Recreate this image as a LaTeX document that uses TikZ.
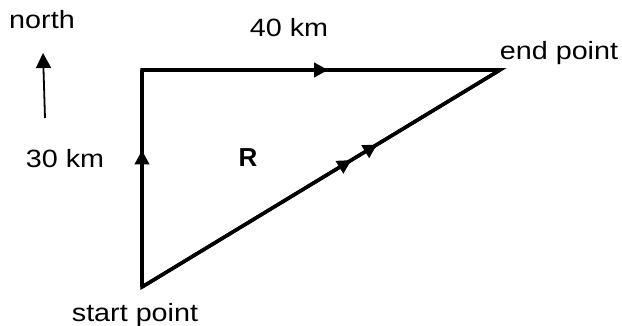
\documentclass[tikz,border=0pt]{standalone}
\usepackage{fontspec}
\setmainfont{Liberation Sans}
\usetikzlibrary{decorations.markings,arrows.meta}
\begin{document}
\begin{tikzpicture}[x=1pt,y=-1pt,
  lbl/.style={inner sep=0pt,anchor=base,xscale=1.15,font=\fontsize{25}{30}\selectfont},
  edge/.style={line width=3.5pt,line join=miter},
  mid/.style={postaction={decorate},decoration={markings,
     mark=at position #1 with {\arrow{Triangle[length=14pt,width=14pt]}}}},
  mid2/.style 2 args={postaction={decorate},decoration={markings,
     mark=at position #1 with {\arrow{Triangle[length=14pt,width=14pt]}},
     mark=at position #2 with {\arrow{Triangle[length=14pt,width=14pt]}}}},
]
\useasboundingbox (0,0) rectangle (622,326);
\coordinate (S) at (142,287);
\coordinate (C) at (142,70);
\coordinate (E) at (500,70);
\draw[edge,mid=0.63] (S) -- (C);
\draw[edge,mid=0.52] (C) -- (E);
\draw[edge,mid2={0.585}{0.657}] (S) -- (E);
\draw[edge] (S) -- (C) -- (E) -- cycle;
% north arrow
\coordinate (Nb) at (45,118);
\coordinate (Nt) at (43,53);
\draw[line width=1.8pt,-{Triangle[length=15pt,width=15pt]}] (Nb) -- (Nt);
\node[lbl] (north) at (42,29) {north};
\node[lbl] (km40) at (289,37) {40 km};
\node[lbl] (endp) at (559,60) {end point};
\node[lbl] (km30) at (65,168) {30 km};
\node[lbl,xscale=1/1.15,font=\fontsize{26}{30}\selectfont\bfseries] (R) at (248,167) {R};
\node[lbl] (startp) at (135,321) {start point};
\end{tikzpicture}
\end{document}
